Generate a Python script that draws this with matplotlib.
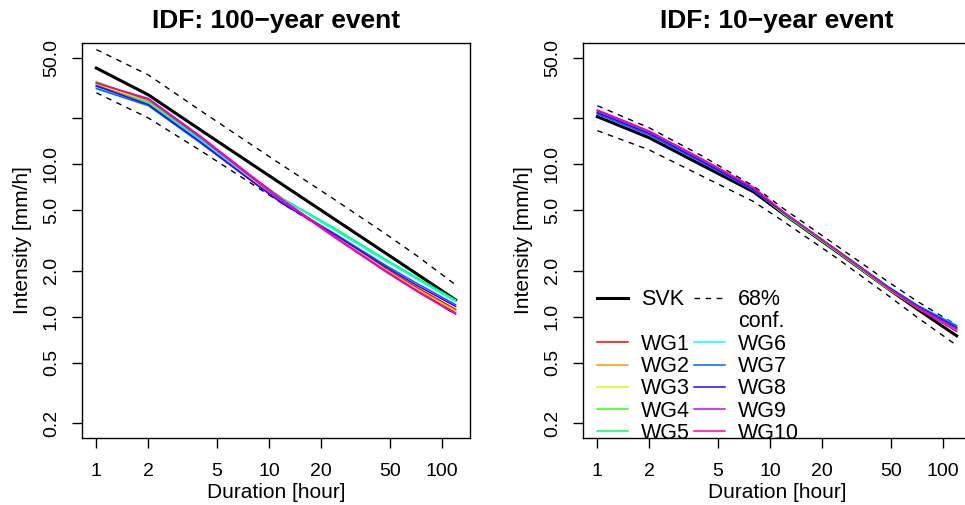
import numpy as np
import matplotlib
matplotlib.use("Agg")
import matplotlib.pyplot as plt
from matplotlib.lines import Line2D

plt.rcParams['font.family'] = ['Liberation Sans', 'DejaVu Sans']

# durations [hour]
durations = [1, 2, 4, 8, 12, 24, 48, 72, 120]

# 100-year event (left panel)
svk_100 = [42.7, 28.5, 16.8, 9.95, 7.33, 4.35, 2.58, 1.90, 1.29]
upper_100 = [56.5, 38.5, 22.5, 13.3, 9.8, 5.85, 3.45, 2.5, 1.62]
lower_100 = [29.4, 20.1, 12.3, 7.4, 5.5, 3.4, 2.05, 1.52, 1.03]
wg1_100 = [33.0, 25.6, 14.6, 8.0, 5.7, 3.45, 2.05, 1.55, 1.12]
wg2_100 = [32.3, 25.3, 14.4, 7.9, 5.65, 3.4, 2.02, 1.52, 1.10]
wg3_100 = [33.6, 25.8, 14.7, 8.0, 5.7, 3.4, 2.0, 1.50, 1.08]
wg4_100 = [34.8, 26.0, 14.8, 8.2, 5.9, 3.75, 2.3, 1.78, 1.27]
wg5_100 = [32.0, 25.0, 14.5, 8.2, 5.95, 3.8, 2.35, 1.80, 1.29]
wg6_100 = [31.8, 24.8, 14.3, 8.1, 5.9, 3.7, 2.3, 1.76, 1.26]
wg7_100 = [31.3, 24.2, 13.8, 7.7, 5.55, 3.5, 2.15, 1.65, 1.20]
wg8_100 = [32.6, 24.6, 14.0, 7.7, 5.5, 3.45, 2.1, 1.60, 1.17]
wg9_100 = [34.2, 26.6, 15.0, 8.1, 5.7, 3.3, 1.95, 1.46, 1.04]
wg10_100 = [34.0, 27.0, 15.3, 8.3, 5.85, 3.35, 1.98, 1.48, 1.06]

# 10-year event (right panel)
svk_10 = [20.5, 14.9, 9.9, 6.6, 4.7, 2.7, 1.53, 1.11, 0.75]
upper_10 = [24.2, 17.3, 11.4, 7.2, 5.1, 2.95, 1.7, 1.25, 0.88]
lower_10 = [16.6, 12.4, 8.4, 5.7, 4.2, 2.45, 1.38, 0.98, 0.65]
wg1_10 = [21.6, 15.9, 10.5, 6.8, 4.75, 2.72, 1.53, 1.13, 0.82]
wg2_10 = [21.9, 16.0, 10.6, 6.85, 4.8, 2.74, 1.55, 1.15, 0.84]
wg3_10 = [22.2, 16.1, 10.7, 6.9, 4.8, 2.73, 1.54, 1.14, 0.83]
wg4_10 = [22.5, 16.2, 10.7, 6.85, 4.7, 2.7, 1.52, 1.13, 0.82]
wg5_10 = [22.0, 16.0, 10.6, 6.9, 4.75, 2.72, 1.54, 1.15, 0.84]
wg6_10 = [21.5, 15.7, 10.4, 6.8, 4.8, 2.78, 1.58, 1.18, 0.88]
wg7_10 = [21.3, 15.5, 10.3, 6.75, 4.8, 2.77, 1.58, 1.18, 0.87]
wg8_10 = [21.8, 15.9, 10.5, 6.85, 4.8, 2.75, 1.56, 1.16, 0.85]
wg9_10 = [22.4, 16.3, 10.8, 7.0, 4.85, 2.76, 1.55, 1.15, 0.83]
wg10_10 = [22.7, 16.5, 10.9, 7.05, 4.85, 2.75, 1.54, 1.13, 0.80]

wg_names = ['WG1', 'WG2', 'WG3', 'WG4', 'WG5', 'WG6', 'WG7', 'WG8', 'WG9', 'WG10']
wg_colors = ['#FF0000', '#FF9900', '#CCFF00', '#33FF00', '#00FF66',
             '#00FFFF', '#0066FF', '#3300FF', '#CC00FF', '#FF0099']

panels = [
    ("IDF: 100\u2212year event", svk_100, upper_100, lower_100,
     [wg1_100, wg2_100, wg3_100, wg4_100, wg5_100, wg6_100, wg7_100, wg8_100, wg9_100, wg10_100]),
    ("IDF: 10\u2212year event", svk_10, upper_10, lower_10,
     [wg1_10, wg2_10, wg3_10, wg4_10, wg5_10, wg6_10, wg7_10, wg8_10, wg9_10, wg10_10]),
]

xticks = [1, 2, 5, 10, 20, 50, 100]
xticklabels = ['1', '2', '5', '10', '20', '50', '100']
yticks = [0.2, 0.5, 1, 2, 5, 10, 20, 50]
yticklabels = ['0.2', '0.5', '1.0', '2.0', '5.0', '10.0', '', '50.0']


def r_lim(lo, hi):
    # R style 4% padding on a log axis
    a, b = np.log10(lo), np.log10(hi)
    d = 0.04 * (b - a)
    return 10 ** (a - d), 10 ** (b + d)


fig = plt.figure(figsize=(9.65, 5.05), dpi=100)
axes = [fig.add_axes([82 / 965, 67 / 505, 388 / 965, 395 / 505]),
        fig.add_axes([583 / 965, 67 / 505, 388 / 965, 395 / 505])]

for ax, (title, svk, upper, lower, wgs) in zip(axes, panels):
    ax.plot(durations, svk, color='black', lw=2.2)
    ax.plot(durations, upper, color='black', lw=1.0, dashes=(4, 4))
    ax.plot(durations, lower, color='black', lw=1.0, dashes=(4, 4))
    wg_lines = []
    for vals, col in zip(wgs, wg_colors):
        ln, = ax.plot(durations, vals, color=col, lw=1.1)
        wg_lines.append(ln)
    ax.set_xscale('log')
    ax.set_yscale('log')
    ax.set_xlim(*r_lim(1, 120))
    ax.set_ylim(*r_lim(0.2, 50))
    ax.set_xticks(xticks)
    ax.set_xticklabels(xticklabels)
    ax.set_yticks(yticks)
    ax.set_yticklabels(yticklabels, rotation=90, va='center')
    ax.minorticks_off()
    ax.tick_params(labelsize=14, length=7, width=1, pad=9)
    ax.tick_params(axis='x', pad=11)
    for s in ax.spines.values():
        s.set_linewidth(1.0)
    ax.set_title(title, fontsize=19, fontweight='bold', pad=10.5)
    ax.set_xlabel('Duration [hour]', fontsize=15, labelpad=2)
    ax.set_ylabel('Intensity [mm/h]', fontsize=15, labelpad=8)

# legend in right panel
h_svk = Line2D([], [], color='black', lw=2.2)
h_conf = Line2D([], [], color='black', lw=1.0, dashes=(4, 4))
h_blank = Line2D([], [], color='none')
handles = [h_svk, h_blank] + wg_lines[:5] + [h_conf, h_blank] + wg_lines[5:]
labels = ['SVK', ''] + wg_names[:5] + ['68%', 'conf.'] + wg_names[5:]
axes[1].legend(handles, labels, ncol=2, loc='lower left', frameon=False,
               fontsize=15.5, handlelength=1.45, handletextpad=0.6,
               columnspacing=0.2, labelspacing=0.06, borderaxespad=0,
               borderpad=0, bbox_to_anchor=(0.035, -0.015))

fig.savefig('out.png', dpi=100)
